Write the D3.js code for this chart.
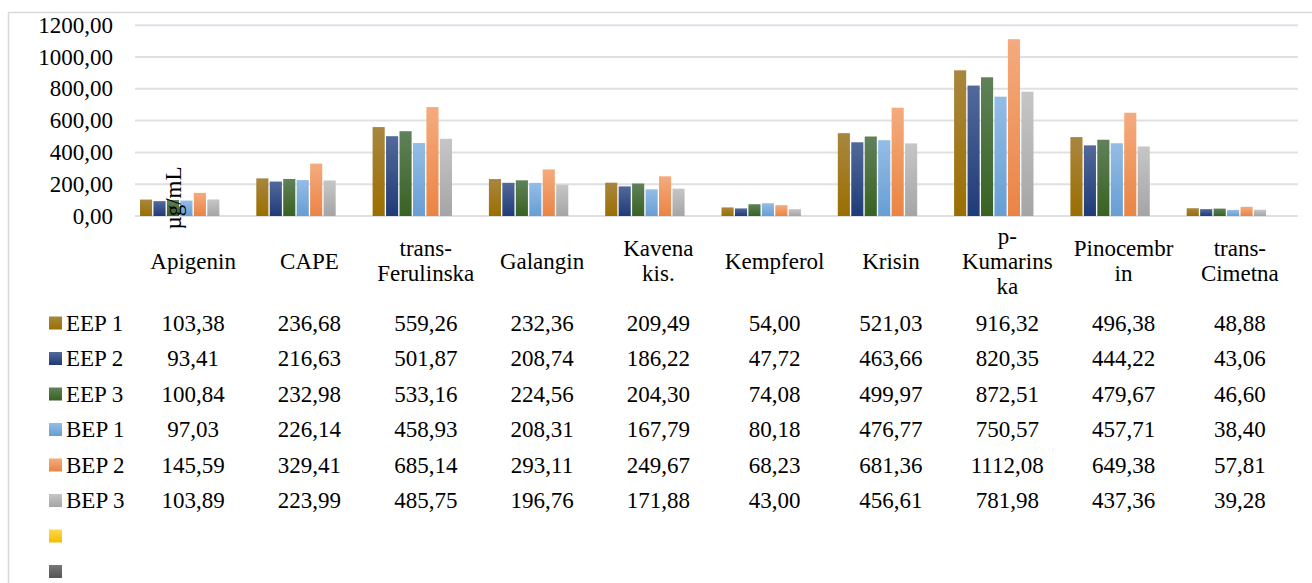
<!DOCTYPE html>
<html>
<head>
<meta charset="utf-8">
<script src="https://cdn.jsdelivr.net/npm/d3@7"></script>
<style>
  body { margin: 0; background: #fff; }
</style>
</head>
<body>
<div id="chart"></div>
<script>
// data
const categories = [
  ["Apigenin"], ["CAPE"], ["trans-", "Ferulinska"], ["Galangin"], ["Kavena", "kis."],
  ["Kempferol"], ["Krisin"], ["p-", "Kumarins", "ka"], ["Pinocembr", "in"], ["trans-", "Cimetna"]
];
const seriesNames = ["EEP 1", "EEP 2", "EEP 3", "BEP 1", "BEP 2", "BEP 3", "", ""];
const eep1 = [103.38, 236.68, 559.26, 232.36, 209.49, 54.00, 521.03, 916.32, 496.38, 48.88];
const eep2 = [93.41, 216.63, 501.87, 208.74, 186.22, 47.72, 463.66, 820.35, 444.22, 43.06];
const eep3 = [100.84, 232.98, 533.16, 224.56, 204.30, 74.08, 499.97, 872.51, 479.67, 46.60];
const bep1 = [97.03, 226.14, 458.93, 208.31, 167.79, 80.18, 476.77, 750.57, 457.71, 38.40];
const bep2 = [145.59, 329.41, 685.14, 293.11, 249.67, 68.23, 681.36, 1112.08, 649.38, 57.81];
const bep3 = [103.89, 223.99, 485.75, 196.76, 171.88, 43.00, 456.61, 781.98, 437.36, 39.28];
const empty7 = [];
const empty8 = [];
const yTicks = [0, 200, 400, 600, 800, 1000, 1200];
const yTitle = "µg/mL";

const values = [eep1, eep2, eep3, bep1, bep2, bep3, empty7, empty8];
// gradient top / bottom
const colors = [
  ["#a9863f", "#9a6f00"],
  ["#52699a", "#1f3b78"],
  ["#60815a", "#386222"],
  ["#93bde6", "#679ed4"],
  ["#f5ab7e", "#ea8443"],
  ["#c6c6c6", "#a5a5a5"],
  ["#ffd84a", "#f2bd00"],
  ["#777777", "#565656"]
];

const FONT = "'Liberation Serif', 'Times New Roman', Times, 'DejaVu Serif', serif";
const W = 1312, H = 583;
const svg = d3.select("#chart").append("svg")
  .attr("width", W).attr("height", H)
  .attr("font-family", FONT);

const defs = svg.append("defs");
colors.forEach((c, i) => {
  const g = defs.append("linearGradient").attr("id", "g" + i)
    .attr("x1", 0).attr("y1", 0).attr("x2", 0).attr("y2", 1);
  g.append("stop").attr("offset", "0%").attr("stop-color", c[0]);
  g.append("stop").attr("offset", "100%").attr("stop-color", c[1]);
});

// chart border
svg.append("path")
  .attr("d", "M8.5," + (H + 5) + " V12.5 H" + (W + 5))
  .attr("fill", "none").attr("stroke", "#d9d9d9").attr("stroke-width", 1.5);

const x = d3.scaleBand().domain(d3.range(categories.length)).range([135, 1298]);
const xs = d3.scaleBand().domain(d3.range(seriesNames.length))
  .range([5, x.bandwidth() - 5]).paddingInner(0.1);
const y = d3.scaleLinear().domain([0, 1200]).range([216, 25.2]);
const fmt = v => v.toFixed(2).replace(".", ",");

// grid
svg.append("g").selectAll("line").data(yTicks).join("line")
  .attr("x1", 135).attr("x2", 1298)
  .attr("y1", d => y(d)).attr("y2", d => y(d))
  .attr("stroke", "#dde1e6").attr("stroke-width", 2);

// y tick labels
svg.append("g").selectAll("text").data(yTicks).join("text")
  .attr("x", 113).attr("y", d => y(d))
  .attr("text-anchor", "end").attr("dominant-baseline", "central")
  .attr("font-size", 23).text(d => fmt(d));

// bars
values.forEach((arr, s) => {
  svg.append("g").selectAll("rect").data(arr).join("rect")
    .attr("x", (d, i) => x(i) + xs(s))
    .attr("width", xs.bandwidth())
    .attr("y", d => y(d))
    .attr("height", d => y(0) - y(d))
    .attr("fill", "url(#g" + s + ")");
});

// y title
svg.append("text")
  .attr("transform", "translate(173,198) rotate(-90)")
  .attr("text-anchor", "middle").attr("dominant-baseline", "central")
  .attr("font-size", 23).text(yTitle);

// category labels
categories.forEach((lines, i) => {
  const cx = x(i) + x.bandwidth() / 2;
  svg.append("g").selectAll("text").data(lines).join("text")
    .attr("x", cx)
    .attr("y", (d, j) => 261 + (j - (lines.length - 1) / 2) * 25)
    .attr("text-anchor", "middle").attr("dominant-baseline", "central")
    .attr("font-size", 23).text(d => d);
});

// data table
const rowY = i => 323 + i * 35.5;
seriesNames.forEach((name, s) => {
  const ry = rowY(s);
  svg.append("rect").attr("x", 49).attr("y", ry - 6.5)
    .attr("width", 13).attr("height", 13).attr("fill", "url(#g" + s + ")");
  svg.append("text").attr("x", 66).attr("y", ry)
    .attr("dominant-baseline", "central").attr("font-size", 23).text(name);
  svg.append("g").selectAll("text").data(values[s]).join("text")
    .attr("x", (d, i) => x(i) + x.bandwidth() / 2)
    .attr("y", ry)
    .attr("text-anchor", "middle").attr("dominant-baseline", "central")
    .attr("font-size", 23).text(d => fmt(d));
});
</script>
</body>
</html>
